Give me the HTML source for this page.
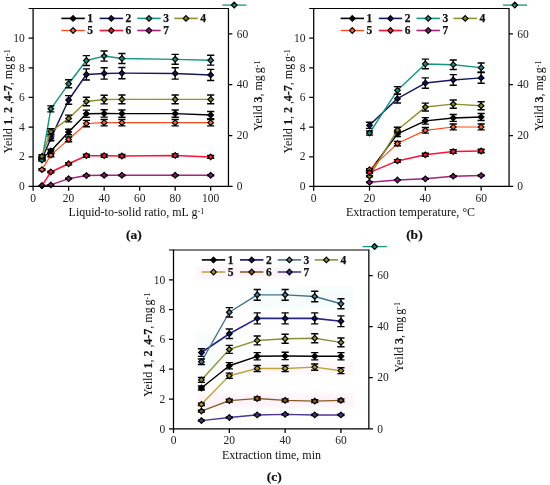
<!DOCTYPE html>
<html><head><meta charset="utf-8"><title>Figure</title>
<style>
html,body{margin:0;padding:0;background:#fff;}
body{width:550px;height:485px;overflow:hidden;}
svg{display:block;font-family:"Liberation Serif", "Times New Roman", serif;}
.t{font-size:11.5px;fill:#222;}
.xl{font-size:12px;fill:#111;}
.yl{font-size:12px;fill:#111;}
.cap{font-size:13.5px;font-weight:bold;fill:#111;stroke:#111;stroke-width:0.2px;}
.lg{font-size:11.5px;font-weight:bold;fill:#111;stroke:#111;stroke-width:0.25px;}
.b{font-weight:bold;stroke:#111;stroke-width:0.2px;}
.sup{font-size:8px;}
</style></head><body>
<svg width="550" height="485" viewBox="0 0 550 485">
<rect width="550" height="485" fill="#fff"/>
<defs><filter id="soft" x="-10%" y="-30%" width="120%" height="160%"><feGaussianBlur stdDeviation="1.6"/></filter></defs>
<g filter="url(#soft)" opacity="0.5">
<rect x="197" y="393" width="158" height="15" fill="#fbeaf5"/>
<rect x="224" y="361" width="130" height="14" fill="#fdf1f7"/>
<rect x="196" y="266" width="96" height="13" fill="#fcedf6"/>
<rect x="250" y="287" width="104" height="22" fill="#effafa"/>
<rect x="196" y="330" width="40" height="40" fill="#f3fbfb"/>
</g>
<g>
<polyline points="41.98,158.23 50.86,150.97 68.62,131.99 86.38,113.76 104.14,113.46 121.90,113.61 175.17,113.61 210.69,115.09" fill="none" stroke="#000000" stroke-width="1.45" stroke-linejoin="round"/>
<path d="M41.98 156.82V159.64M38.38 156.82h7.2M38.38 159.64h7.2M50.86 149.20V152.74M47.26 149.20h7.2M47.26 152.74h7.2M68.62 129.27V134.71M65.02 129.27h7.2M65.02 134.71h7.2M86.38 110.13V117.39M82.78 110.13h7.2M82.78 117.39h7.2M104.14 109.81V117.11M100.54 109.81h7.2M100.54 117.11h7.2M121.90 109.97V117.25M118.30 109.97h7.2M118.30 117.25h7.2M175.17 109.97V117.25M171.57 109.97h7.2M171.57 117.25h7.2M210.69 111.53V118.66M207.09 111.53h7.2M207.09 118.66h7.2" stroke="#000" stroke-width="1.4" fill="none"/>
<path d="M41.98 155.38l2.85 2.85l-2.85 2.85l-2.85 -2.85zM50.86 148.12l2.85 2.85l-2.85 2.85l-2.85 -2.85zM68.62 129.14l2.85 2.85l-2.85 2.85l-2.85 -2.85zM86.38 110.91l2.85 2.85l-2.85 2.85l-2.85 -2.85zM104.14 110.61l2.85 2.85l-2.85 2.85l-2.85 -2.85zM121.90 110.76l2.85 2.85l-2.85 2.85l-2.85 -2.85zM175.17 110.76l2.85 2.85l-2.85 2.85l-2.85 -2.85zM210.69 112.24l2.85 2.85l-2.85 2.85l-2.85 -2.85z" fill="#000000" stroke="#000" stroke-width="1.15"/>
<polyline points="41.98,158.97 50.86,138.37 68.62,99.97 86.38,74.47 104.14,73.43 121.90,73.14 175.17,73.43 210.69,74.92" fill="none" stroke="#17175f" stroke-width="1.45" stroke-linejoin="round"/>
<path d="M41.98 157.60V160.35M38.38 157.60h7.2M38.38 160.35h7.2M50.86 135.97V140.77M47.26 135.97h7.2M47.26 140.77h7.2M68.62 95.65V104.29M65.02 95.65h7.2M65.02 104.29h7.2M86.38 68.87V80.07M82.78 68.87h7.2M82.78 80.07h7.2M104.14 67.79V79.08M100.54 67.79h7.2M100.54 79.08h7.2M121.90 67.47V78.80M118.30 67.47h7.2M118.30 78.80h7.2M175.17 67.79V79.08M171.57 67.79h7.2M171.57 79.08h7.2M210.69 69.34V80.49M207.09 69.34h7.2M207.09 80.49h7.2" stroke="#000" stroke-width="1.4" fill="none"/>
<path d="M41.98 156.12l2.85 2.85l-2.85 2.85l-2.85 -2.85zM50.86 135.52l2.85 2.85l-2.85 2.85l-2.85 -2.85zM68.62 97.12l2.85 2.85l-2.85 2.85l-2.85 -2.85zM86.38 71.62l2.85 2.85l-2.85 2.85l-2.85 -2.85zM104.14 70.58l2.85 2.85l-2.85 2.85l-2.85 -2.85zM121.90 70.29l2.85 2.85l-2.85 2.85l-2.85 -2.85zM175.17 70.58l2.85 2.85l-2.85 2.85l-2.85 -2.85zM210.69 72.07l2.85 2.85l-2.85 2.85l-2.85 -2.85z" fill="#12125c" stroke="#000" stroke-width="1.15"/>
<polyline points="41.98,160.01 50.86,108.87 68.62,83.81 86.38,60.54 104.14,56.09 121.90,58.46 175.17,59.35 210.69,60.24" fill="none" stroke="#14967f" stroke-width="1.45" stroke-linejoin="round"/>
<path d="M41.98 158.98V161.04M38.38 158.98h7.2M38.38 161.04h7.2M50.86 105.84V111.89M47.26 105.84h7.2M47.26 111.89h7.2M68.62 79.81V87.81M65.02 79.81h7.2M65.02 87.81h7.2M86.38 55.63V65.44M82.78 55.63h7.2M82.78 65.44h7.2M104.14 51.01V61.17M100.54 51.01h7.2M100.54 61.17h7.2M121.90 53.47V63.45M118.30 53.47h7.2M118.30 63.45h7.2M175.17 54.39V64.30M171.57 54.39h7.2M171.57 64.30h7.2M210.69 55.32V65.16M207.09 55.32h7.2M207.09 65.16h7.2" stroke="#000" stroke-width="1.4" fill="none"/>
<path d="M41.98 157.16l2.85 2.85l-2.85 2.85l-2.85 -2.85zM50.86 106.02l2.85 2.85l-2.85 2.85l-2.85 -2.85zM68.62 80.96l2.85 2.85l-2.85 2.85l-2.85 -2.85zM86.38 57.69l2.85 2.85l-2.85 2.85l-2.85 -2.85zM104.14 53.24l2.85 2.85l-2.85 2.85l-2.85 -2.85zM121.90 55.61l2.85 2.85l-2.85 2.85l-2.85 -2.85zM175.17 56.50l2.85 2.85l-2.85 2.85l-2.85 -2.85zM210.69 57.39l2.85 2.85l-2.85 2.85l-2.85 -2.85z" fill="#1a8a7a" stroke="#000" stroke-width="1.15"/>
<polyline points="41.98,156.31 50.86,131.55 68.62,118.50 86.38,101.45 104.14,99.53 121.90,99.38 175.17,99.38 210.69,99.38" fill="none" stroke="#94902e" stroke-width="1.45" stroke-linejoin="round"/>
<path d="M41.98 154.80V157.81M38.38 154.80h7.2M38.38 157.81h7.2M50.86 128.80V134.29M47.26 128.80h7.2M47.26 134.29h7.2M68.62 115.11V121.90M65.02 115.11h7.2M65.02 121.90h7.2M86.38 97.21V105.70M82.78 97.21h7.2M82.78 105.70h7.2M104.14 95.18V103.87M100.54 95.18h7.2M100.54 103.87h7.2M121.90 95.03V103.73M118.30 95.03h7.2M118.30 103.73h7.2M175.17 95.03V103.73M171.57 95.03h7.2M171.57 103.73h7.2M210.69 95.03V103.73M207.09 95.03h7.2M207.09 103.73h7.2" stroke="#000" stroke-width="1.4" fill="none"/>
<path d="M41.98 153.46l2.85 2.85l-2.85 2.85l-2.85 -2.85zM50.86 128.70l2.85 2.85l-2.85 2.85l-2.85 -2.85zM68.62 115.65l2.85 2.85l-2.85 2.85l-2.85 -2.85zM86.38 98.60l2.85 2.85l-2.85 2.85l-2.85 -2.85zM104.14 96.68l2.85 2.85l-2.85 2.85l-2.85 -2.85zM121.90 96.53l2.85 2.85l-2.85 2.85l-2.85 -2.85zM175.17 96.53l2.85 2.85l-2.85 2.85l-2.85 -2.85zM210.69 96.53l2.85 2.85l-2.85 2.85l-2.85 -2.85z" fill="#80801e" stroke="#000" stroke-width="1.15"/>
<polyline points="41.98,169.65 50.86,155.12 68.62,139.40 86.38,123.54 104.14,122.65 121.90,122.65 175.17,122.65 210.69,122.65" fill="none" stroke="#ff4818" stroke-width="1.15" stroke-linejoin="round"/>
<path d="M41.98 168.81V170.49M38.38 168.81h7.2M38.38 170.49h7.2M50.86 153.56V156.68M47.26 153.56h7.2M47.26 156.68h7.2M68.62 137.05V141.75M65.02 137.05h7.2M65.02 141.75h7.2M86.38 120.40V126.68M82.78 120.40h7.2M82.78 126.68h7.2M104.14 119.47V125.84M100.54 119.47h7.2M100.54 125.84h7.2M121.90 119.47V125.84M118.30 119.47h7.2M118.30 125.84h7.2M175.17 119.47V125.84M171.57 119.47h7.2M171.57 125.84h7.2M210.69 119.47V125.84M207.09 119.47h7.2M207.09 125.84h7.2" stroke="#000" stroke-width="1.4" fill="none"/>
<path d="M41.98 166.80l2.85 2.85l-2.85 2.85l-2.85 -2.85zM50.86 152.27l2.85 2.85l-2.85 2.85l-2.85 -2.85zM68.62 136.55l2.85 2.85l-2.85 2.85l-2.85 -2.85zM86.38 120.69l2.85 2.85l-2.85 2.85l-2.85 -2.85zM104.14 119.80l2.85 2.85l-2.85 2.85l-2.85 -2.85zM121.90 119.80l2.85 2.85l-2.85 2.85l-2.85 -2.85zM175.17 119.80l2.85 2.85l-2.85 2.85l-2.85 -2.85zM210.69 119.80l2.85 2.85l-2.85 2.85l-2.85 -2.85z" fill="#f86434" stroke="#000" stroke-width="1.15"/>
<polyline points="41.98,185.66 50.86,172.02 68.62,163.72 86.38,155.71 104.14,155.71 121.90,156.01 175.17,155.42 210.69,156.90" fill="none" stroke="#ff1038" stroke-width="1.5" stroke-linejoin="round"/>
<path d="M41.98 185.62V185.70M38.38 185.62h7.2M38.38 185.70h7.2M50.86 171.30V172.74M47.26 171.30h7.2M47.26 172.74h7.2M68.62 162.58V164.85M65.02 162.58h7.2M65.02 164.85h7.2M86.38 154.18V157.25M82.78 154.18h7.2M82.78 157.25h7.2M104.14 154.18V157.25M100.54 154.18h7.2M100.54 157.25h7.2M121.90 154.49V157.53M118.30 154.49h7.2M118.30 157.53h7.2M175.17 153.87V156.96M171.57 153.87h7.2M171.57 156.96h7.2M210.69 155.42V158.37M207.09 155.42h7.2M207.09 158.37h7.2" stroke="#000" stroke-width="1.4" fill="none"/>
<path d="M41.98 182.81l2.85 2.85l-2.85 2.85l-2.85 -2.85zM50.86 169.17l2.85 2.85l-2.85 2.85l-2.85 -2.85zM68.62 160.87l2.85 2.85l-2.85 2.85l-2.85 -2.85zM86.38 152.86l2.85 2.85l-2.85 2.85l-2.85 -2.85zM104.14 152.86l2.85 2.85l-2.85 2.85l-2.85 -2.85zM121.90 153.16l2.85 2.85l-2.85 2.85l-2.85 -2.85zM175.17 152.57l2.85 2.85l-2.85 2.85l-2.85 -2.85zM210.69 154.05l2.85 2.85l-2.85 2.85l-2.85 -2.85z" fill="#f4182c" stroke="#000" stroke-width="1.15"/>
<polyline points="41.98,185.66 50.86,184.92 68.62,178.69 86.38,175.58 104.14,175.28 121.90,175.28 175.17,175.28 210.69,175.28" fill="none" stroke="#a8207a" stroke-width="1.45" stroke-linejoin="round"/>
<path d="M41.98 185.62V185.70M38.38 185.62h7.2M38.38 185.70h7.2M50.86 184.84V184.99M47.26 184.84h7.2M47.26 184.99h7.2M68.62 178.31V179.08M65.02 178.31h7.2M65.02 179.08h7.2M86.38 175.04V176.12M82.78 175.04h7.2M82.78 176.12h7.2M104.14 174.73V175.84M100.54 174.73h7.2M100.54 175.84h7.2M121.90 174.73V175.84M118.30 174.73h7.2M118.30 175.84h7.2M175.17 174.73V175.84M171.57 174.73h7.2M171.57 175.84h7.2M210.69 174.73V175.84M207.09 174.73h7.2M207.09 175.84h7.2" stroke="#000" stroke-width="1.4" fill="none"/>
<path d="M41.98 182.81l2.85 2.85l-2.85 2.85l-2.85 -2.85zM50.86 182.07l2.85 2.85l-2.85 2.85l-2.85 -2.85zM68.62 175.84l2.85 2.85l-2.85 2.85l-2.85 -2.85zM86.38 172.73l2.85 2.85l-2.85 2.85l-2.85 -2.85zM104.14 172.43l2.85 2.85l-2.85 2.85l-2.85 -2.85zM121.90 172.43l2.85 2.85l-2.85 2.85l-2.85 -2.85zM175.17 172.43l2.85 2.85l-2.85 2.85l-2.85 -2.85zM210.69 172.43l2.85 2.85l-2.85 2.85l-2.85 -2.85z" fill="#861a72" stroke="#000" stroke-width="1.15"/>
<path d="M28.60 8.50H228.45" stroke="#000" stroke-width="1.2" fill="none"/>
<path d="M33.10 8.00V190.70M228.45 8.00V187.00M28.60 186.40H232.65" stroke="#000" stroke-width="1.25" fill="none"/>
<text x="24.80" y="160.45" text-anchor="end" class="t">2</text>
<text x="24.80" y="130.80" text-anchor="end" class="t">4</text>
<text x="24.80" y="101.15" text-anchor="end" class="t">6</text>
<text x="24.80" y="71.50" text-anchor="end" class="t">8</text>
<text x="24.80" y="41.85" text-anchor="end" class="t">10</text>
<text x="24.80" y="190.10" text-anchor="end" class="t">0</text>
<text x="236.75" y="190.10" class="t">0</text>
<text x="236.75" y="139.27" class="t">20</text>
<text x="236.75" y="88.44" class="t">40</text>
<text x="236.75" y="37.61" class="t">60</text>
<text x="33.10" y="202.40" text-anchor="middle" class="t">0</text>
<text x="68.62" y="202.40" text-anchor="middle" class="t">20</text>
<text x="104.14" y="202.40" text-anchor="middle" class="t">40</text>
<text x="139.65" y="202.40" text-anchor="middle" class="t">60</text>
<text x="175.17" y="202.40" text-anchor="middle" class="t">80</text>
<text x="210.69" y="202.40" text-anchor="middle" class="t">100</text>
<path d="M28.60 156.75H33.10M28.60 127.10H33.10M28.60 97.45H33.10M28.60 67.80H33.10M28.60 38.15H33.10M228.45 135.57h3.9M228.45 84.74h3.9M228.45 33.91h3.9M68.62 186.40v4.3M104.14 186.40v4.3M139.65 186.40v4.3M175.17 186.40v4.3M210.69 186.40v4.3" stroke="#000" stroke-width="1.25" fill="none"/>
<text x="136.38" y="215.70" text-anchor="middle" class="xl">Liquid-to-solid ratio, mL g<tspan class="sup" dy="-2.2">-1</tspan></text>
<text x="133.78" y="239.10" text-anchor="middle" class="cap">(a)</text>
<text transform="translate(12.40 101.40) rotate(-90)" text-anchor="middle" class="yl">Yeild <tspan class="b">1</tspan>, <tspan class="b">2</tspan> ,<tspan class="b">4-7</tspan>, mg<tspan dx="1.9">g</tspan><tspan class="sup" dy="-2.2">-1</tspan></text>
<text transform="translate(262.20 95.80) rotate(-90)" text-anchor="middle" class="yl">Yeild <tspan class="b">3</tspan>, mg<tspan dx="1.9">g</tspan><tspan class="sup" dy="-2.2">-1</tspan></text>
<path d="M61.40 18.40h23.4" stroke="#000000" stroke-width="1.5999999999999999" fill="none"/>
<path d="M73.10 15.55l2.85 2.85l-2.85 2.85l-2.85 -2.85z" fill="#000000" stroke="#000" stroke-width="1.15"/>
<text x="87.30" y="22.00" class="lg">1</text>
<path d="M99.60 18.40h23.4" stroke="#17175f" stroke-width="1.5999999999999999" fill="none"/>
<path d="M111.30 15.55l2.85 2.85l-2.85 2.85l-2.85 -2.85z" fill="#12125c" stroke="#000" stroke-width="1.15"/>
<text x="125.50" y="22.00" class="lg">2</text>
<path d="M137.30 18.40h23.4" stroke="#14967f" stroke-width="1.5999999999999999" fill="none"/>
<path d="M149.00 15.55l2.85 2.85l-2.85 2.85l-2.85 -2.85z" fill="#1a8a7a" stroke="#000" stroke-width="1.15"/>
<text x="163.20" y="22.00" class="lg">3</text>
<path d="M174.30 18.40h23.4" stroke="#94902e" stroke-width="1.5999999999999999" fill="none"/>
<path d="M186.00 15.55l2.85 2.85l-2.85 2.85l-2.85 -2.85z" fill="#80801e" stroke="#000" stroke-width="1.15"/>
<text x="200.20" y="22.00" class="lg">4</text>
<path d="M61.40 30.50h23.4" stroke="#ff4818" stroke-width="1.2999999999999998" fill="none"/>
<path d="M73.10 27.65l2.85 2.85l-2.85 2.85l-2.85 -2.85z" fill="#f86434" stroke="#000" stroke-width="1.15"/>
<text x="87.30" y="34.10" class="lg">5</text>
<path d="M99.60 30.50h23.4" stroke="#ff1038" stroke-width="1.65" fill="none"/>
<path d="M111.30 27.65l2.85 2.85l-2.85 2.85l-2.85 -2.85z" fill="#f4182c" stroke="#000" stroke-width="1.15"/>
<text x="125.50" y="34.10" class="lg">6</text>
<path d="M137.30 30.50h23.4" stroke="#a8207a" stroke-width="1.5999999999999999" fill="none"/>
<path d="M149.00 27.65l2.85 2.85l-2.85 2.85l-2.85 -2.85z" fill="#861a72" stroke="#000" stroke-width="1.15"/>
<text x="163.20" y="34.10" class="lg">7</text>
<path d="M222.40 5.10h24" stroke="#14967f" stroke-width="1.3" fill="none"/>
<path d="M234.20 2.25l2.85 2.85l-2.85 2.85l-2.85 -2.85z" fill="#1a8a7a" stroke="#000" stroke-width="1.25"/>
</g>
<g>
<polyline points="369.51,171.72 397.42,133.92 425.33,120.87 453.24,117.91 481.14,117.02" fill="none" stroke="#000000" stroke-width="1.45" stroke-linejoin="round"/>
<path d="M369.51 170.99V172.46M365.91 170.99h7.2M365.91 172.46h7.2M397.42 131.30V136.54M393.82 131.30h7.2M393.82 136.54h7.2M425.33 117.60V124.15M421.73 117.60h7.2M421.73 124.15h7.2M453.24 114.48V121.33M449.64 114.48h7.2M449.64 121.33h7.2M481.14 113.55V120.49M477.54 113.55h7.2M477.54 120.49h7.2" stroke="#000" stroke-width="1.4" fill="none"/>
<path d="M369.51 168.87l2.85 2.85l-2.85 2.85l-2.85 -2.85zM397.42 131.07l2.85 2.85l-2.85 2.85l-2.85 -2.85zM425.33 118.02l2.85 2.85l-2.85 2.85l-2.85 -2.85zM453.24 115.06l2.85 2.85l-2.85 2.85l-2.85 -2.85zM481.14 114.17l2.85 2.85l-2.85 2.85l-2.85 -2.85z" fill="#000000" stroke="#000" stroke-width="1.15"/>
<polyline points="369.51,125.32 397.42,98.64 425.33,83.07 453.24,79.96 481.14,77.88" fill="none" stroke="#17175f" stroke-width="1.45" stroke-linejoin="round"/>
<path d="M369.51 122.27V128.37M365.91 122.27h7.2M365.91 128.37h7.2M397.42 94.25V103.02M393.82 94.25h7.2M393.82 103.02h7.2M425.33 77.90V88.24M421.73 77.90h7.2M421.73 88.24h7.2M453.24 74.63V85.28M449.64 74.63h7.2M449.64 85.28h7.2M481.14 72.46V83.31M477.54 72.46h7.2M477.54 83.31h7.2" stroke="#000" stroke-width="1.4" fill="none"/>
<path d="M369.51 122.47l2.85 2.85l-2.85 2.85l-2.85 -2.85zM397.42 95.79l2.85 2.85l-2.85 2.85l-2.85 -2.85zM425.33 80.22l2.85 2.85l-2.85 2.85l-2.85 -2.85zM453.24 77.11l2.85 2.85l-2.85 2.85l-2.85 -2.85zM481.14 75.03l2.85 2.85l-2.85 2.85l-2.85 -2.85z" fill="#12125c" stroke="#000" stroke-width="1.15"/>
<polyline points="369.51,133.03 397.42,90.33 425.33,63.95 453.24,64.69 481.14,67.65" fill="none" stroke="#14967f" stroke-width="1.45" stroke-linejoin="round"/>
<path d="M369.51 130.95V135.11M365.91 130.95h7.2M365.91 135.11h7.2M397.42 86.59V94.08M393.82 86.59h7.2M393.82 94.08h7.2M425.33 59.17V68.72M421.73 59.17h7.2M421.73 68.72h7.2M453.24 59.94V69.43M449.64 59.94h7.2M449.64 69.43h7.2M481.14 63.02V72.28M477.54 63.02h7.2M477.54 72.28h7.2" stroke="#000" stroke-width="1.4" fill="none"/>
<path d="M369.51 130.18l2.85 2.85l-2.85 2.85l-2.85 -2.85zM397.42 87.48l2.85 2.85l-2.85 2.85l-2.85 -2.85zM425.33 61.10l2.85 2.85l-2.85 2.85l-2.85 -2.85zM453.24 61.84l2.85 2.85l-2.85 2.85l-2.85 -2.85zM481.14 64.80l2.85 2.85l-2.85 2.85l-2.85 -2.85z" fill="#1a8a7a" stroke="#000" stroke-width="1.15"/>
<polyline points="369.51,176.17 397.42,130.06 425.33,107.09 453.24,104.12 481.14,105.75" fill="none" stroke="#94902e" stroke-width="1.45" stroke-linejoin="round"/>
<path d="M369.51 175.66V176.68M365.91 175.66h7.2M365.91 176.68h7.2M397.42 127.25V132.88M393.82 127.25h7.2M393.82 132.88h7.2M425.33 103.12V111.05M421.73 103.12h7.2M421.73 111.05h7.2M453.24 100.01V108.24M449.64 100.01h7.2M449.64 108.24h7.2M481.14 101.72V109.78M477.54 101.72h7.2M477.54 109.78h7.2" stroke="#000" stroke-width="1.4" fill="none"/>
<path d="M369.51 173.32l2.85 2.85l-2.85 2.85l-2.85 -2.85zM397.42 127.22l2.85 2.85l-2.85 2.85l-2.85 -2.85zM425.33 104.24l2.85 2.85l-2.85 2.85l-2.85 -2.85zM453.24 101.27l2.85 2.85l-2.85 2.85l-2.85 -2.85zM481.14 102.90l2.85 2.85l-2.85 2.85l-2.85 -2.85z" fill="#80801e" stroke="#000" stroke-width="1.15"/>
<polyline points="369.51,169.65 397.42,143.56 425.33,130.36 453.24,126.95 481.14,126.95" fill="none" stroke="#ff4818" stroke-width="1.15" stroke-linejoin="round"/>
<path d="M369.51 168.81V170.49M365.91 168.81h7.2M365.91 170.49h7.2M397.42 141.41V145.70M393.82 141.41h7.2M393.82 145.70h7.2M425.33 127.56V133.16M421.73 127.56h7.2M421.73 133.16h7.2M453.24 123.98V129.92M449.64 123.98h7.2M449.64 129.92h7.2M481.14 123.98V129.92M477.54 123.98h7.2M477.54 129.92h7.2" stroke="#000" stroke-width="1.4" fill="none"/>
<path d="M369.51 166.80l2.85 2.85l-2.85 2.85l-2.85 -2.85zM397.42 140.71l2.85 2.85l-2.85 2.85l-2.85 -2.85zM425.33 127.51l2.85 2.85l-2.85 2.85l-2.85 -2.85zM453.24 124.10l2.85 2.85l-2.85 2.85l-2.85 -2.85zM481.14 124.10l2.85 2.85l-2.85 2.85l-2.85 -2.85z" fill="#f86434" stroke="#000" stroke-width="1.15"/>
<polyline points="369.51,172.61 397.42,160.90 425.33,154.82 453.24,151.56 481.14,150.97" fill="none" stroke="#ff1038" stroke-width="1.5" stroke-linejoin="round"/>
<path d="M369.51 171.92V173.30M365.91 171.92h7.2M365.91 173.30h7.2M397.42 159.63V162.18M393.82 159.63h7.2M393.82 162.18h7.2M425.33 153.24V156.40M421.73 153.24h7.2M421.73 156.40h7.2M453.24 149.82V153.30M449.64 149.82h7.2M449.64 153.30h7.2M481.14 149.20V152.74M477.54 149.20h7.2M477.54 152.74h7.2" stroke="#000" stroke-width="1.4" fill="none"/>
<path d="M369.51 169.76l2.85 2.85l-2.85 2.85l-2.85 -2.85zM397.42 158.05l2.85 2.85l-2.85 2.85l-2.85 -2.85zM425.33 151.97l2.85 2.85l-2.85 2.85l-2.85 -2.85zM453.24 148.71l2.85 2.85l-2.85 2.85l-2.85 -2.85zM481.14 148.12l2.85 2.85l-2.85 2.85l-2.85 -2.85z" fill="#f4182c" stroke="#000" stroke-width="1.15"/>
<polyline points="369.51,182.25 397.42,180.03 425.33,178.84 453.24,176.17 481.14,175.58" fill="none" stroke="#a8207a" stroke-width="1.45" stroke-linejoin="round"/>
<path d="M369.51 182.04V182.46M365.91 182.04h7.2M365.91 182.46h7.2M397.42 179.71V180.34M393.82 179.71h7.2M393.82 180.34h7.2M425.33 178.46V179.22M421.73 178.46h7.2M421.73 179.22h7.2M453.24 175.66V176.68M449.64 175.66h7.2M449.64 176.68h7.2M481.14 175.04V176.12M477.54 175.04h7.2M477.54 176.12h7.2" stroke="#000" stroke-width="1.4" fill="none"/>
<path d="M369.51 179.40l2.85 2.85l-2.85 2.85l-2.85 -2.85zM397.42 177.18l2.85 2.85l-2.85 2.85l-2.85 -2.85zM425.33 175.99l2.85 2.85l-2.85 2.85l-2.85 -2.85zM453.24 173.32l2.85 2.85l-2.85 2.85l-2.85 -2.85zM481.14 172.73l2.85 2.85l-2.85 2.85l-2.85 -2.85z" fill="#861a72" stroke="#000" stroke-width="1.15"/>
<path d="M309.20 8.50H509.05" stroke="#000" stroke-width="1.2" fill="none"/>
<path d="M313.70 8.00V190.70M509.05 8.00V187.00M309.20 186.40H513.25" stroke="#000" stroke-width="1.25" fill="none"/>
<text x="305.40" y="160.45" text-anchor="end" class="t">2</text>
<text x="305.40" y="130.80" text-anchor="end" class="t">4</text>
<text x="305.40" y="101.15" text-anchor="end" class="t">6</text>
<text x="305.40" y="71.50" text-anchor="end" class="t">8</text>
<text x="305.40" y="41.85" text-anchor="end" class="t">10</text>
<text x="305.40" y="190.10" text-anchor="end" class="t">0</text>
<text x="517.35" y="190.10" class="t">0</text>
<text x="517.35" y="139.27" class="t">20</text>
<text x="517.35" y="88.44" class="t">40</text>
<text x="517.35" y="37.61" class="t">60</text>
<text x="313.70" y="202.40" text-anchor="middle" class="t">0</text>
<text x="369.51" y="202.40" text-anchor="middle" class="t">20</text>
<text x="425.33" y="202.40" text-anchor="middle" class="t">40</text>
<text x="481.14" y="202.40" text-anchor="middle" class="t">60</text>
<path d="M309.20 156.75H313.70M309.20 127.10H313.70M309.20 97.45H313.70M309.20 67.80H313.70M309.20 38.15H313.70M509.05 135.57h3.9M509.05 84.74h3.9M509.05 33.91h3.9M369.51 186.40v4.3M425.33 186.40v4.3M481.14 186.40v4.3" stroke="#000" stroke-width="1.25" fill="none"/>
<text x="410.48" y="215.70" text-anchor="middle" class="xl">Extraction temperature, °C</text>
<text x="414.38" y="239.10" text-anchor="middle" class="cap">(b)</text>
<text transform="translate(292.10 101.40) rotate(-90)" text-anchor="middle" class="yl">Yeild <tspan class="b">1</tspan>, <tspan class="b">2</tspan> ,<tspan class="b">4-7</tspan>, mg<tspan dx="1.9">g</tspan><tspan class="sup" dy="-2.2">-1</tspan></text>
<text transform="translate(542.80 95.80) rotate(-90)" text-anchor="middle" class="yl">Yeild <tspan class="b">3</tspan>, mg<tspan dx="1.9">g</tspan><tspan class="sup" dy="-2.2">-1</tspan></text>
<path d="M340.60 18.40h23.4" stroke="#000000" stroke-width="1.5999999999999999" fill="none"/>
<path d="M352.30 15.55l2.85 2.85l-2.85 2.85l-2.85 -2.85z" fill="#000000" stroke="#000" stroke-width="1.15"/>
<text x="366.50" y="22.00" class="lg">1</text>
<path d="M378.80 18.40h23.4" stroke="#17175f" stroke-width="1.5999999999999999" fill="none"/>
<path d="M390.50 15.55l2.85 2.85l-2.85 2.85l-2.85 -2.85z" fill="#12125c" stroke="#000" stroke-width="1.15"/>
<text x="404.70" y="22.00" class="lg">2</text>
<path d="M416.50 18.40h23.4" stroke="#14967f" stroke-width="1.5999999999999999" fill="none"/>
<path d="M428.20 15.55l2.85 2.85l-2.85 2.85l-2.85 -2.85z" fill="#1a8a7a" stroke="#000" stroke-width="1.15"/>
<text x="442.40" y="22.00" class="lg">3</text>
<path d="M453.50 18.40h23.4" stroke="#94902e" stroke-width="1.5999999999999999" fill="none"/>
<path d="M465.20 15.55l2.85 2.85l-2.85 2.85l-2.85 -2.85z" fill="#80801e" stroke="#000" stroke-width="1.15"/>
<text x="479.40" y="22.00" class="lg">4</text>
<path d="M340.60 30.50h23.4" stroke="#ff4818" stroke-width="1.2999999999999998" fill="none"/>
<path d="M352.30 27.65l2.85 2.85l-2.85 2.85l-2.85 -2.85z" fill="#f86434" stroke="#000" stroke-width="1.15"/>
<text x="366.50" y="34.10" class="lg">5</text>
<path d="M378.80 30.50h23.4" stroke="#ff1038" stroke-width="1.65" fill="none"/>
<path d="M390.50 27.65l2.85 2.85l-2.85 2.85l-2.85 -2.85z" fill="#f4182c" stroke="#000" stroke-width="1.15"/>
<text x="404.70" y="34.10" class="lg">6</text>
<path d="M416.50 30.50h23.4" stroke="#a8207a" stroke-width="1.5999999999999999" fill="none"/>
<path d="M428.20 27.65l2.85 2.85l-2.85 2.85l-2.85 -2.85z" fill="#861a72" stroke="#000" stroke-width="1.15"/>
<text x="442.40" y="34.10" class="lg">7</text>
<path d="M503.00 5.10h24" stroke="#14967f" stroke-width="1.3" fill="none"/>
<path d="M514.80 2.25l2.85 2.85l-2.85 2.85l-2.85 -2.85z" fill="#1a8a7a" stroke="#000" stroke-width="1.25"/>
</g>
<g>
<polyline points="201.41,387.97 229.31,365.77 257.22,356.24 285.13,355.94 314.71,356.24 340.94,356.24" fill="none" stroke="#000000" stroke-width="1.45" stroke-linejoin="round"/>
<path d="M201.41 385.93V390.02M197.81 385.93h7.2M197.81 390.02h7.2M229.31 362.62V368.92M225.71 362.62h7.2M225.71 368.92h7.2M257.22 352.61V359.87M253.62 352.61h7.2M253.62 359.87h7.2M285.13 352.30V359.58M281.53 352.30h7.2M281.53 359.58h7.2M314.71 352.61V359.87M311.11 352.61h7.2M311.11 359.87h7.2M340.94 352.61V359.87M337.34 352.61h7.2M337.34 359.87h7.2" stroke="#000" stroke-width="1.4" fill="none"/>
<path d="M201.41 385.12l2.85 2.85l-2.85 2.85l-2.85 -2.85zM229.31 362.92l2.85 2.85l-2.85 2.85l-2.85 -2.85zM257.22 353.39l2.85 2.85l-2.85 2.85l-2.85 -2.85zM285.13 353.09l2.85 2.85l-2.85 2.85l-2.85 -2.85zM314.71 353.39l2.85 2.85l-2.85 2.85l-2.85 -2.85zM340.94 353.39l2.85 2.85l-2.85 2.85l-2.85 -2.85z" fill="#000000" stroke="#000" stroke-width="1.15"/>
<polyline points="201.41,352.51 229.31,333.74 257.22,318.39 285.13,318.39 314.71,318.39 340.94,321.22" fill="none" stroke="#26268a" stroke-width="1.6" stroke-linejoin="round"/>
<path d="M201.41 348.70V356.33M197.81 348.70h7.2M197.81 356.33h7.2M229.31 328.98V338.49M225.71 328.98h7.2M225.71 338.49h7.2M257.22 312.87V323.91M253.62 312.87h7.2M253.62 323.91h7.2M285.13 312.87V323.91M281.53 312.87h7.2M281.53 323.91h7.2M314.71 312.87V323.91M311.11 312.87h7.2M311.11 323.91h7.2M340.94 315.84V326.60M337.34 315.84h7.2M337.34 326.60h7.2" stroke="#000" stroke-width="1.4" fill="none"/>
<path d="M201.41 349.66l2.85 2.85l-2.85 2.85l-2.85 -2.85zM229.31 330.89l2.85 2.85l-2.85 2.85l-2.85 -2.85zM257.22 315.54l2.85 2.85l-2.85 2.85l-2.85 -2.85zM285.13 315.54l2.85 2.85l-2.85 2.85l-2.85 -2.85zM314.71 315.54l2.85 2.85l-2.85 2.85l-2.85 -2.85zM340.94 318.37l2.85 2.85l-2.85 2.85l-2.85 -2.85z" fill="#121266" stroke="#000" stroke-width="1.15"/>
<polyline points="201.41,361.75 229.31,312.28 257.22,294.85 285.13,294.85 314.71,296.49 340.94,303.79" fill="none" stroke="#44728c" stroke-width="1.4" stroke-linejoin="round"/>
<path d="M201.41 359.07V364.43M197.81 359.07h7.2M197.81 364.43h7.2M229.31 307.62V316.94M225.71 307.62h7.2M225.71 316.94h7.2M257.22 289.49V300.21M253.62 289.49h7.2M253.62 300.21h7.2M285.13 289.49V300.21M281.53 289.49h7.2M281.53 300.21h7.2M314.71 291.20V301.78M311.11 291.20h7.2M311.11 301.78h7.2M340.94 298.79V308.79M337.34 298.79h7.2M337.34 308.79h7.2" stroke="#000" stroke-width="1.4" fill="none"/>
<path d="M201.41 358.90l2.85 2.85l-2.85 2.85l-2.85 -2.85zM229.31 309.43l2.85 2.85l-2.85 2.85l-2.85 -2.85zM257.22 292.00l2.85 2.85l-2.85 2.85l-2.85 -2.85zM285.13 292.00l2.85 2.85l-2.85 2.85l-2.85 -2.85zM314.71 293.64l2.85 2.85l-2.85 2.85l-2.85 -2.85zM340.94 300.94l2.85 2.85l-2.85 2.85l-2.85 -2.85z" fill="#54788a" stroke="#000" stroke-width="1.15"/>
<polyline points="201.41,379.93 229.31,349.38 257.22,340.44 285.13,338.80 314.71,338.21 340.94,342.38" fill="none" stroke="#8e8e34" stroke-width="1.4" stroke-linejoin="round"/>
<path d="M201.41 377.48V382.37M197.81 377.48h7.2M197.81 382.37h7.2M229.31 345.41V353.35M225.71 345.41h7.2M225.71 353.35h7.2M257.22 336.03V344.86M253.62 336.03h7.2M253.62 344.86h7.2M285.13 334.30V343.30M281.53 334.30h7.2M281.53 343.30h7.2M314.71 333.68V342.74M311.11 333.68h7.2M311.11 342.74h7.2M340.94 338.06V346.70M337.34 338.06h7.2M337.34 346.70h7.2" stroke="#000" stroke-width="1.4" fill="none"/>
<path d="M201.41 377.08l2.85 2.85l-2.85 2.85l-2.85 -2.85zM229.31 346.53l2.85 2.85l-2.85 2.85l-2.85 -2.85zM257.22 337.59l2.85 2.85l-2.85 2.85l-2.85 -2.85zM285.13 335.95l2.85 2.85l-2.85 2.85l-2.85 -2.85zM314.71 335.36l2.85 2.85l-2.85 2.85l-2.85 -2.85zM340.94 339.53l2.85 2.85l-2.85 2.85l-2.85 -2.85z" fill="#8a8a22" stroke="#000" stroke-width="1.15"/>
<polyline points="201.41,404.36 229.31,375.76 257.22,368.46 285.13,368.46 314.71,367.11 340.94,370.69" fill="none" stroke="#c0a23a" stroke-width="1.4" stroke-linejoin="round"/>
<path d="M201.41 403.14V405.59M197.81 403.14h7.2M197.81 405.59h7.2M229.31 373.10V378.41M225.71 373.10h7.2M225.71 378.41h7.2M257.22 365.44V371.47M253.62 365.44h7.2M253.62 371.47h7.2M285.13 365.44V371.47M281.53 365.44h7.2M281.53 371.47h7.2M314.71 364.03V370.20M311.11 364.03h7.2M311.11 370.20h7.2M340.94 367.78V373.60M337.34 367.78h7.2M337.34 373.60h7.2" stroke="#000" stroke-width="1.4" fill="none"/>
<path d="M201.41 401.51l2.85 2.85l-2.85 2.85l-2.85 -2.85zM229.31 372.91l2.85 2.85l-2.85 2.85l-2.85 -2.85zM257.22 365.61l2.85 2.85l-2.85 2.85l-2.85 -2.85zM285.13 365.61l2.85 2.85l-2.85 2.85l-2.85 -2.85zM314.71 364.26l2.85 2.85l-2.85 2.85l-2.85 -2.85zM340.94 367.84l2.85 2.85l-2.85 2.85l-2.85 -2.85z" fill="#ac9a22" stroke="#000" stroke-width="1.15"/>
<polyline points="201.41,411.07 229.31,400.64 257.22,398.55 285.13,400.34 314.71,401.09 340.94,400.34" fill="none" stroke="#8a5824" stroke-width="1.4" stroke-linejoin="round"/>
<path d="M201.41 410.18V411.96M197.81 410.18h7.2M197.81 411.96h7.2M229.31 399.23V402.05M225.71 399.23h7.2M225.71 402.05h7.2M257.22 397.04V400.07M253.62 397.04h7.2M253.62 400.07h7.2M285.13 398.92V401.76M281.53 398.92h7.2M281.53 401.76h7.2M314.71 399.70V402.47M311.11 399.70h7.2M311.11 402.47h7.2M340.94 398.92V401.76M337.34 398.92h7.2M337.34 401.76h7.2" stroke="#000" stroke-width="1.4" fill="none"/>
<path d="M201.41 408.22l2.85 2.85l-2.85 2.85l-2.85 -2.85zM229.31 397.79l2.85 2.85l-2.85 2.85l-2.85 -2.85zM257.22 395.70l2.85 2.85l-2.85 2.85l-2.85 -2.85zM285.13 397.49l2.85 2.85l-2.85 2.85l-2.85 -2.85zM314.71 398.24l2.85 2.85l-2.85 2.85l-2.85 -2.85zM340.94 397.49l2.85 2.85l-2.85 2.85l-2.85 -2.85z" fill="#8a5a20" stroke="#000" stroke-width="1.15"/>
<polyline points="201.41,420.61 229.31,417.48 257.22,414.94 285.13,414.35 314.71,414.94 340.94,414.94" fill="none" stroke="#4b3590" stroke-width="1.4" stroke-linejoin="round"/>
<path d="M201.41 420.20V421.01M197.81 420.20h7.2M197.81 421.01h7.2M229.31 416.91V418.04M225.71 416.91h7.2M225.71 418.04h7.2M257.22 414.25V415.64M253.62 414.25h7.2M253.62 415.64h7.2M285.13 413.62V415.07M281.53 413.62h7.2M281.53 415.07h7.2M314.71 414.25V415.64M311.11 414.25h7.2M311.11 415.64h7.2M340.94 414.25V415.64M337.34 414.25h7.2M337.34 415.64h7.2" stroke="#000" stroke-width="1.4" fill="none"/>
<path d="M201.41 417.75l2.85 2.85l-2.85 2.85l-2.85 -2.85zM229.31 414.63l2.85 2.85l-2.85 2.85l-2.85 -2.85zM257.22 412.09l2.85 2.85l-2.85 2.85l-2.85 -2.85zM285.13 411.50l2.85 2.85l-2.85 2.85l-2.85 -2.85zM314.71 412.09l2.85 2.85l-2.85 2.85l-2.85 -2.85zM340.94 412.09l2.85 2.85l-2.85 2.85l-2.85 -2.85z" fill="#43328a" stroke="#000" stroke-width="1.15"/>
<path d="M169.00 250.00H368.85" stroke="#000" stroke-width="1.2" fill="none"/>
<path d="M173.50 249.50V433.10M368.85 249.50V429.40M169.00 428.80H373.05" stroke="#000" stroke-width="1.25" fill="none"/>
<text x="165.20" y="402.70" text-anchor="end" class="t">2</text>
<text x="165.20" y="372.90" text-anchor="end" class="t">4</text>
<text x="165.20" y="343.10" text-anchor="end" class="t">6</text>
<text x="165.20" y="313.30" text-anchor="end" class="t">8</text>
<text x="165.20" y="283.50" text-anchor="end" class="t">10</text>
<text x="165.20" y="432.50" text-anchor="end" class="t">0</text>
<text x="377.15" y="432.50" class="t">0</text>
<text x="377.15" y="381.41" class="t">20</text>
<text x="377.15" y="330.33" class="t">40</text>
<text x="377.15" y="279.24" class="t">60</text>
<text x="173.50" y="444.00" text-anchor="middle" class="t">0</text>
<text x="229.31" y="444.00" text-anchor="middle" class="t">20</text>
<text x="285.13" y="444.00" text-anchor="middle" class="t">40</text>
<text x="340.94" y="444.00" text-anchor="middle" class="t">60</text>
<path d="M169.00 399.00H173.50M169.00 369.20H173.50M169.00 339.40H173.50M169.00 309.60H173.50M169.00 279.80H173.50M368.85 377.71h3.9M368.85 326.63h3.9M368.85 275.54h3.9M229.31 428.80v4.3M285.13 428.80v4.3M340.94 428.80v4.3" stroke="#000" stroke-width="1.25" fill="none"/>
<text x="271.48" y="459.00" text-anchor="middle" class="xl">Extraction time, min</text>
<text x="274.18" y="480.50" text-anchor="middle" class="cap">(c)</text>
<text transform="translate(152.10 344.90) rotate(-90)" text-anchor="middle" class="yl">Yeild <tspan class="b">1</tspan>, <tspan class="b">2</tspan> ,<tspan class="b">4-7</tspan>, mg<tspan dx="1.9">g</tspan><tspan class="sup" dy="-2.2">-1</tspan></text>
<text transform="translate(402.60 337.30) rotate(-90)" text-anchor="middle" class="yl">Yeild <tspan class="b">3</tspan>, mg<tspan dx="1.9">g</tspan><tspan class="sup" dy="-2.2">-1</tspan></text>
<path d="M201.80 259.90h23.4" stroke="#000000" stroke-width="1.5999999999999999" fill="none"/>
<path d="M213.50 257.05l2.85 2.85l-2.85 2.85l-2.85 -2.85z" fill="#000000" stroke="#000" stroke-width="1.15"/>
<text x="227.70" y="263.50" class="lg">1</text>
<path d="M240.00 259.90h23.4" stroke="#26268a" stroke-width="1.75" fill="none"/>
<path d="M251.70 257.05l2.85 2.85l-2.85 2.85l-2.85 -2.85z" fill="#121266" stroke="#000" stroke-width="1.15"/>
<text x="265.90" y="263.50" class="lg">2</text>
<path d="M277.70 259.90h23.4" stroke="#44728c" stroke-width="1.5499999999999998" fill="none"/>
<path d="M289.40 257.05l2.85 2.85l-2.85 2.85l-2.85 -2.85z" fill="#54788a" stroke="#000" stroke-width="1.15"/>
<text x="303.60" y="263.50" class="lg">3</text>
<path d="M314.70 259.90h23.4" stroke="#8e8e34" stroke-width="1.5499999999999998" fill="none"/>
<path d="M326.40 257.05l2.85 2.85l-2.85 2.85l-2.85 -2.85z" fill="#8a8a22" stroke="#000" stroke-width="1.15"/>
<text x="340.60" y="263.50" class="lg">4</text>
<path d="M201.80 272.00h23.4" stroke="#c0a23a" stroke-width="1.5499999999999998" fill="none"/>
<path d="M213.50 269.15l2.85 2.85l-2.85 2.85l-2.85 -2.85z" fill="#ac9a22" stroke="#000" stroke-width="1.15"/>
<text x="227.70" y="275.60" class="lg">5</text>
<path d="M240.00 272.00h23.4" stroke="#8a5824" stroke-width="1.5499999999999998" fill="none"/>
<path d="M251.70 269.15l2.85 2.85l-2.85 2.85l-2.85 -2.85z" fill="#8a5a20" stroke="#000" stroke-width="1.15"/>
<text x="265.90" y="275.60" class="lg">6</text>
<path d="M277.70 272.00h23.4" stroke="#4b3590" stroke-width="1.5499999999999998" fill="none"/>
<path d="M289.40 269.15l2.85 2.85l-2.85 2.85l-2.85 -2.85z" fill="#43328a" stroke="#000" stroke-width="1.15"/>
<text x="303.60" y="275.60" class="lg">7</text>
<path d="M362.80 246.60h24" stroke="#14967f" stroke-width="1.3" fill="none"/>
<path d="M374.60 243.75l2.85 2.85l-2.85 2.85l-2.85 -2.85z" fill="#1a8a7a" stroke="#000" stroke-width="1.25"/>
</g>
</svg>
</body></html>
